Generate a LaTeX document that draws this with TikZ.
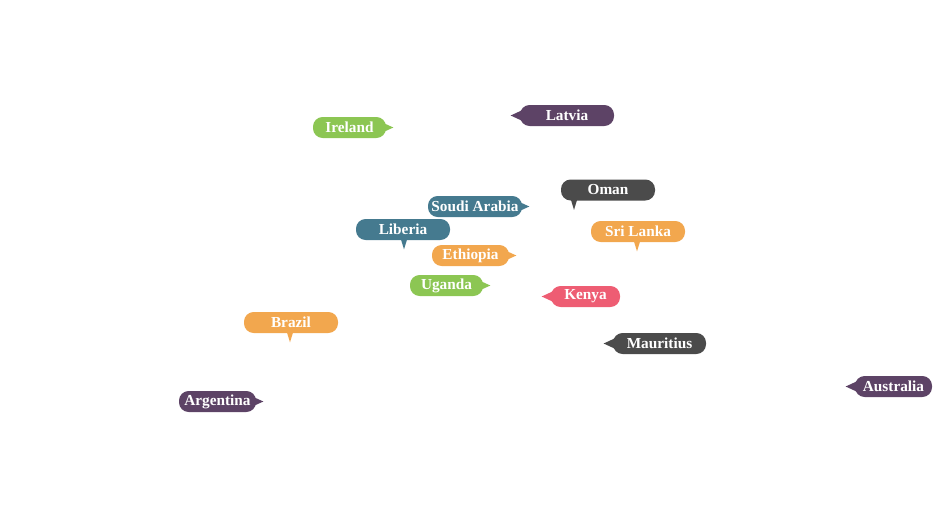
\documentclass[tikz,border=0pt]{standalone}
\usepackage{fontspec}
\setmainfont{Liberation Serif}
\usepackage{xcolor}
\usetikzlibrary{calc}
\definecolor{cgreen}{HTML}{8CC653}
\definecolor{cplum}{HTML}{5D4366}
\definecolor{cgray}{HTML}{4B4B4B}
\definecolor{cteal}{HTML}{457A8F}
\definecolor{corange}{HTML}{F2A74E}
\definecolor{cred}{HTML}{EE5D73}
\tikzset{
  bubble/.style={rounded corners=5.5pt, fill=#1, text=white, inner sep=0pt,
    minimum height=21*0.02cm, font=\fontsize{8.7}{10}\selectfont\bfseries},
}
% pointers of the bubbles
\newcommand{\ptright}[2]{\fill[#2] ($(#1.east)+(-4,-5)$) -- ($(#1.east)+(7,0)$) -- ($(#1.east)+(-4,5)$) -- cycle;}
\newcommand{\ptleft}[2]{\fill[#2] ($(#1.west)+(4,-6)$) -- ($(#1.west)+(-9,0)$) -- ($(#1.west)+(4,6)$) -- cycle;}
\newcommand{\ptdown}[3]{\fill[#2] ($(#1.south)+(#3-4,-4)$) -- ($(#1.south)+(#3,9)$) -- ($(#1.south)+(#3+4,-4)$) -- cycle;}

\begin{document}
\begin{tikzpicture}[x=0.02cm,y=-0.02cm]
    \useasboundingbox (0,0) rectangle (940,505);
    \node[bubble=cgreen, minimum width=73*0.02cm] (ireland) at (349.5,127.5) {Ireland};
    \node[bubble=cplum, minimum width=94*0.02cm] (latvia) at (567,115.5) {Latvia};
    \node[bubble=cgray, minimum width=94*0.02cm] (oman) at (608,190) {Oman};
    \node[bubble=cteal, minimum width=94*0.02cm] (soudi) at (475,206.5) {Soudi Arabia};
    \node[bubble=cteal, minimum width=94*0.02cm] (liberia) at (403,229.5) {Liberia};
    \node[bubble=corange, minimum width=94*0.02cm] (srilanka) at (638,231.5) {Sri Lanka};
    \node[bubble=corange, minimum width=77*0.02cm] (ethiopia) at (470.5,255.5) {Ethiopia};
    \node[bubble=cgreen, minimum width=73*0.02cm] (uganda) at (446.5,285.5) {Uganda};
    \node[bubble=cred, minimum width=69*0.02cm] (kenya) at (585.5,296.5) {Kenya};
    \node[bubble=corange, minimum width=94*0.02cm] (brazil) at (291,322.5) {Brazil};
    \node[bubble=cgray, minimum width=93*0.02cm] (mauritius) at (659.5,343.5) {Mauritius};
    \node[bubble=cplum, minimum width=77*0.02cm] (argentina) at (217.5,401.5) {Argentina};
    \node[bubble=cplum, minimum width=77*0.02cm] (australia) at (893.5,386.5) {Australia};

    \ptright{ireland}{cgreen}
    \ptleft{latvia}{cplum}
    \ptdown{oman}{cgray}{-34}
    \ptright{soudi}{cteal}
    \ptdown{liberia}{cteal}{1}
    \ptdown{srilanka}{corange}{-1}
    \ptright{ethiopia}{corange}
    \ptright{uganda}{cgreen}
    \ptleft{kenya}{cred}
    \ptdown{brazil}{corange}{-1}
    \ptleft{mauritius}{cgray}
    \ptright{argentina}{cplum}
    \ptleft{australia}{cplum}
  \end{tikzpicture}
\end{document}
